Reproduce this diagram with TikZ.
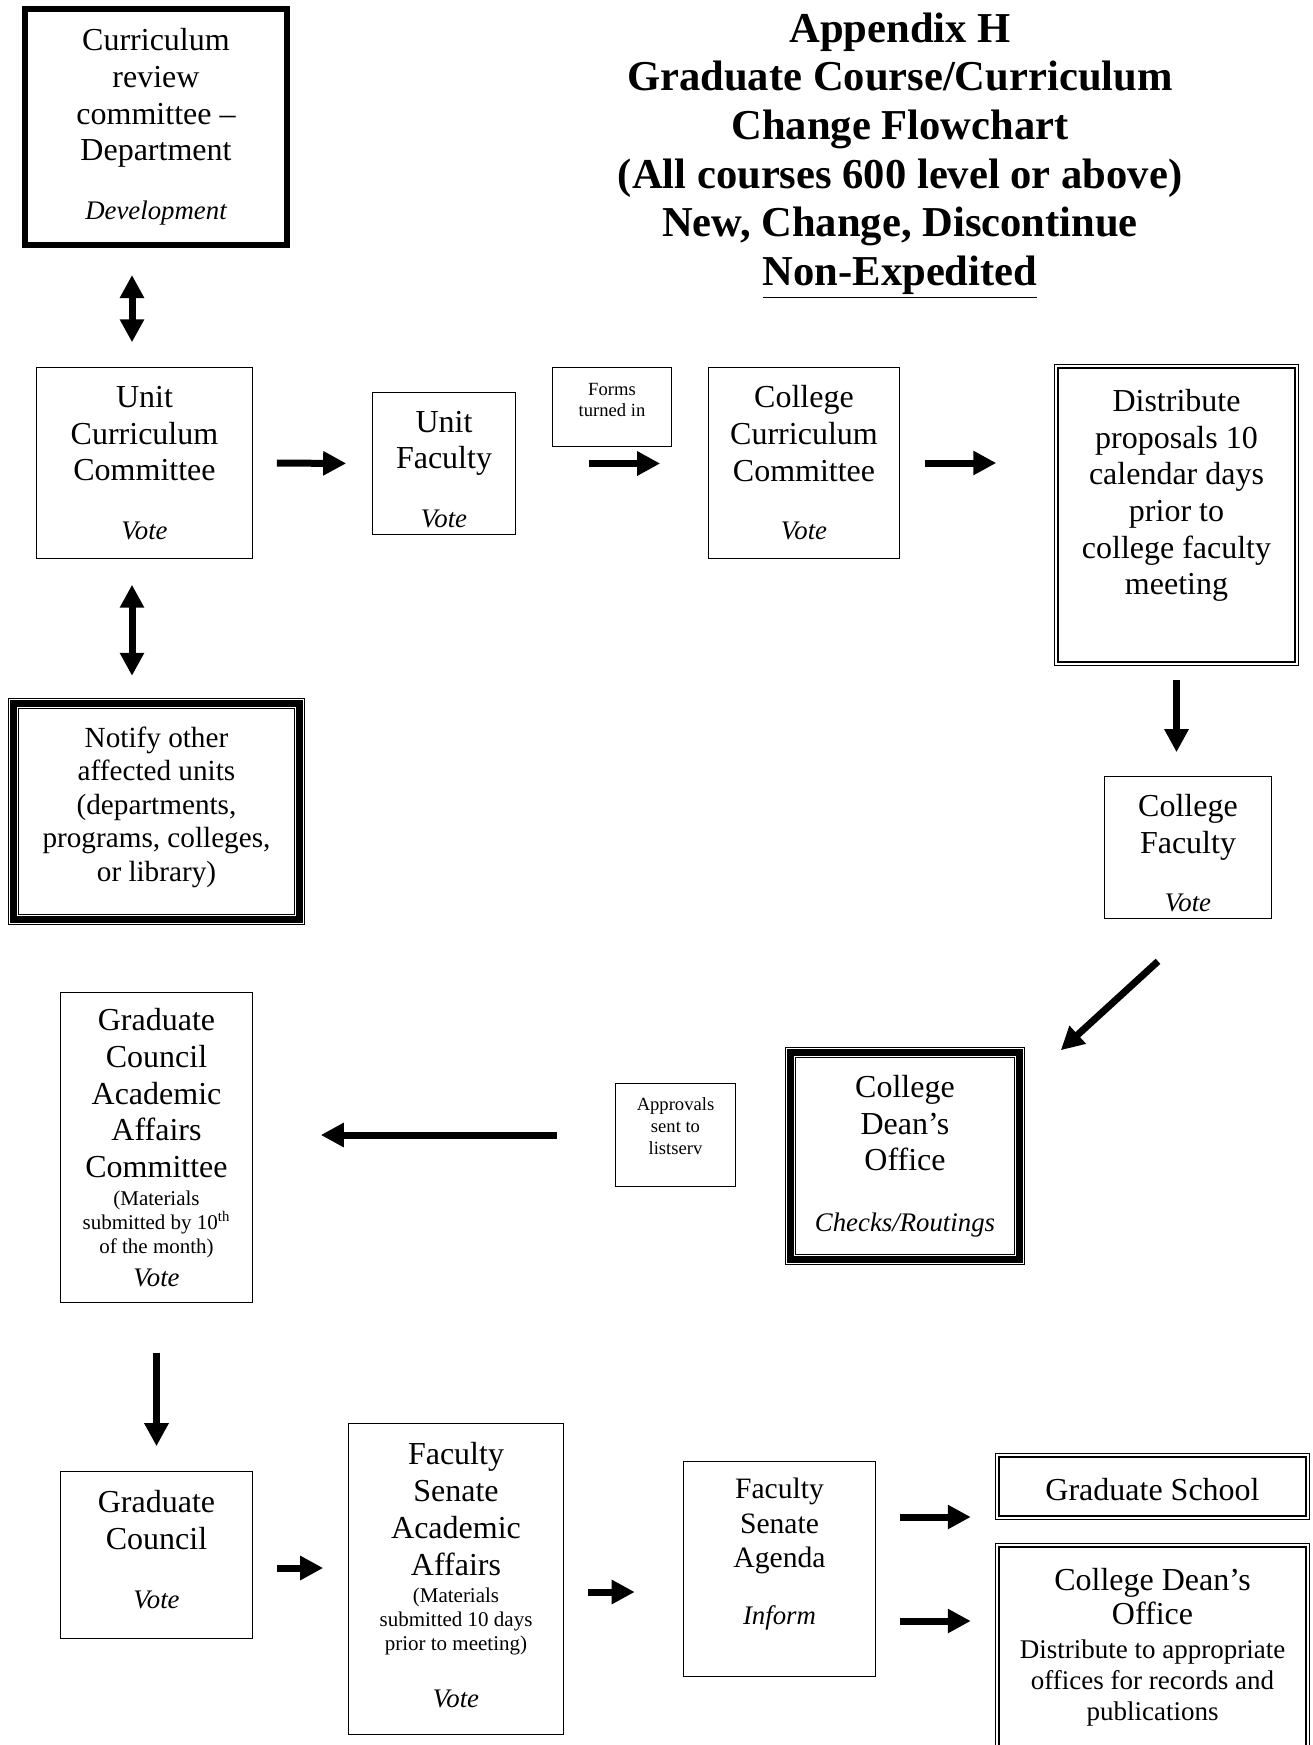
\documentclass[tikz,border=0pt]{standalone}
\usepackage{fontspec}
\setmainfont{Liberation Serif}
\usetikzlibrary{arrows.meta,calc}

\newcommand\bodysz{\fontsize{16}{18.35}\selectfont}
\newcommand\notifysz{\fontsize{14.6}{16.7}\selectfont}
\newcommand\agendasz{\fontsize{14.8}{17.25}\selectfont}
\newcommand\officesz{\fontsize{16}{17.3}\selectfont}
\newcommand\notesz{\fontsize{13.5}{15.5}\selectfont}
\newcommand\smallsz{\fontsize{10.5}{12}\selectfont}
\newcommand\tinysz{\fontsize{9.3}{10.8}\selectfont}
\newcommand\titlesz{\fontsize{21.3}{24.35}\selectfont\bfseries}
\newcommand\italnote[1]{{\fontsize{13.4}{15}\selectfont\itshape #1}}
\newcommand\padbelow[1]{\rule[-#1]{0pt}{#1}}
\newcommand\padabove[1]{\rule{0pt}{#1}}

\begin{document}
\begin{tikzpicture}[x=0.5pt,y=-0.5pt,
	box/.style={draw, line width=0.8pt, align=center, inner sep=0pt, font=\bodysz},
	heavybox/.style={box, line width=3pt},
	dblbox/.style={box, line width=0.75pt, double distance=1pt},
	tribox/.style={box, line width=3.2pt, preaction={draw, line width=0.6pt, double distance=4.6pt}},
	arr/.style={line width=3.5pt, -{Triangle[length=11.5pt,width=11.5pt]}},
	darr/.style={line width=3.5pt, {Triangle[length=11.5pt,width=11.5pt]}-{Triangle[length=11.5pt,width=11.5pt]}}]
		\useasboundingbox (0,0) rectangle (1312,1745);

		% title
		\node[align=center, font=\titlesz] (title) at (900,155.6) {Appendix H\\ Graduate Course/Curriculum\\ Change Flowchart\\ (All courses 600 level or above)\\ New, Change, Discontinue\\ \underline{Non-Expedited}};

		% top row
		\node[heavybox, minimum width=131pt, minimum height=118pt] (crc) at (156,127) {Curriculum\\ review\\ committee –\\ Department\\[11pt] \italnote{Development}};
		\node[box, minimum width=108pt, minimum height=95.5pt] (unit) at (144.5,463) {Unit\\ Curriculum\\ Committee\\[11pt] \italnote{Vote}};
		\node[box, minimum width=71.5pt, minimum height=71pt] (uf) at (444,463.5) {\padabove{16.6pt}Unit\\ Faculty\\[11pt] \italnote{Vote}};
		\node[box, font=\tinysz, minimum width=59.5pt, minimum height=39.5pt] (forms) at (612,407) {Forms\\ turned in\padbelow{7pt}};
		\node[box, minimum width=95.5pt, minimum height=95.5pt] (ccc) at (804,463) {College\\ Curriculum\\ Committee\\[11pt] \italnote{Vote}};
		\node[dblbox, minimum width=120.3pt, minimum height=148.8pt] (dist) at (1176.5,515) {Distribute\\ proposals 10\\ calendar days\\ prior to\\ college faculty\\ meeting\padbelow{23pt}};
		\node[box, minimum width=83.5pt, minimum height=71pt] (cf) at (1188,847.5) {\padabove{16.5pt}College\\ Faculty\\[10.5pt] \italnote{Vote}};
		\node[tribox, font=\notifysz, minimum width=143pt, minimum height=108pt] (notify) at (156.5,811.5) {Notify other\\ affected units\\ (departments,\\ programs, colleges,\\ or library)\padbelow{7.5pt}};

		% middle row
		\node[box, minimum width=96pt, minimum height=155pt] (gcaac) at (156.5,1147.5) {Graduate\\ Council\\ Academic\\ Affairs\\ Committee\\[-4.5pt] {\smallsz (Materials}\\[-6.35pt] {\smallsz submitted by 10\textsuperscript{th}}\\[-6.35pt] {\smallsz of the month)}\\[-1.85pt] \italnote{Vote}};
		\node[box, font=\tinysz, minimum width=60pt, minimum height=51.5pt] (approvals) at (675.5,1135) {Approvals\\ sent to\\ listserv\padbelow{9pt}};
		\node[tribox, minimum width=114.6pt, minimum height=103.6pt] (dean) at (905,1156) {College\\ Dean’s\\ Office\\[11.7pt] \italnote{Checks/Routings}};

		% bottom row
		\node[box, minimum width=96pt, minimum height=83.5pt] (gc) at (156.5,1555) {Graduate\\ Council\\[11pt] \italnote{Vote}\padbelow{5.5pt}};
		\node[box, minimum width=107.5pt, minimum height=155.5pt] (fsaa) at (456,1579) {Faculty\\ Senate\\ Academic\\ Affairs\\[-4.5pt] {\smallsz (Materials}\\[-6.35pt] {\smallsz submitted 10 days}\\[-6.35pt] {\smallsz prior to meeting)}\\[9.9pt] \italnote{Vote}\padbelow{4pt}};
		\node[box, font=\agendasz, minimum width=96pt, minimum height=107.5pt] (fsa) at (779.5,1569) {Faculty\\ Senate\\ Agenda\\[11pt] \italnote{Inform}\padbelow{18pt}};
		\node[dblbox, minimum width=155.3pt, minimum height=31.3pt] (gs) at (1152.5,1486.5) {\padabove{14.3pt}Graduate School};
		\node[dblbox, font=\officesz, minimum width=155.3pt, minimum height=101.8pt] (cdo) at (1152.5,1647) {College Dean’s\\ Office\\[-0.65pt] {\notesz Distribute to appropriate}\\[-1.8pt] {\notesz offices for records and}\\[-1.8pt] {\notesz publications}};

		% lanes for the arrows
		\coordinate (lane) at ($(unit.north)+(-12.5,0)$);
		\coordinate (r1) at ($(gc.east)+(0,13)$);
		\coordinate (r2) at ($(fsaa.east)+(0,13)$);
		\coordinate (r3) at ($(fsa.east)+(0,-52)$);
		\coordinate (r4) at ($(fsa.east)+(0,52)$);

		\draw[darr, shorten <=13.5pt, shorten >=12.2pt] (lane |- crc.south) -- (lane);
		\draw[darr, shorten <=12.7pt, shorten >=12.25pt] (lane |- unit.south) -- (lane |- notify.north);
		\draw[arr, shorten <=11.75pt, shorten >=12.75pt] (unit.east) -- (uf.west);
		\draw[arr, shorten <=36.25pt, shorten >=23.75pt] (uf.east) -- (uf.east -| ccc.west);
		\draw[arr, shorten <=12.25pt, shorten >=29.6pt] (ccc.east) -- (ccc.east -| dist.west);
		\draw[arr, shorten <=7.6pt, shorten >=11.75pt] (dist.south) -- (dist.south |- cf.north);
		\draw[arr] ($(cf.south)+(-30,42)$) -- ($(dean.north east)+(38,1)$);
		\draw[arr, shorten <=28.75pt, shorten >=33.75pt] (approvals.west) -- (approvals.west -| gcaac.east);
		\draw[arr, shorten <=24.75pt, shorten >=12.25pt] (gcaac.south) -- (gcaac.south |- gc.north);
		\draw[arr, shorten <=11.75pt, shorten >=12.25pt] (r1) -- (r1 -| fsaa.west);
		\draw[arr, shorten <=12pt, shorten >=24pt] (r2) -- (r2 -| fsa.west);
		\draw[arr, shorten <=11.75pt, shorten >=12.85pt] (r3) -- (r3 -| gs.west);
		\draw[arr, shorten <=11.75pt, shorten >=12.85pt] (r4) -- (r4 -| cdo.west);
	\end{tikzpicture}
\end{document}
